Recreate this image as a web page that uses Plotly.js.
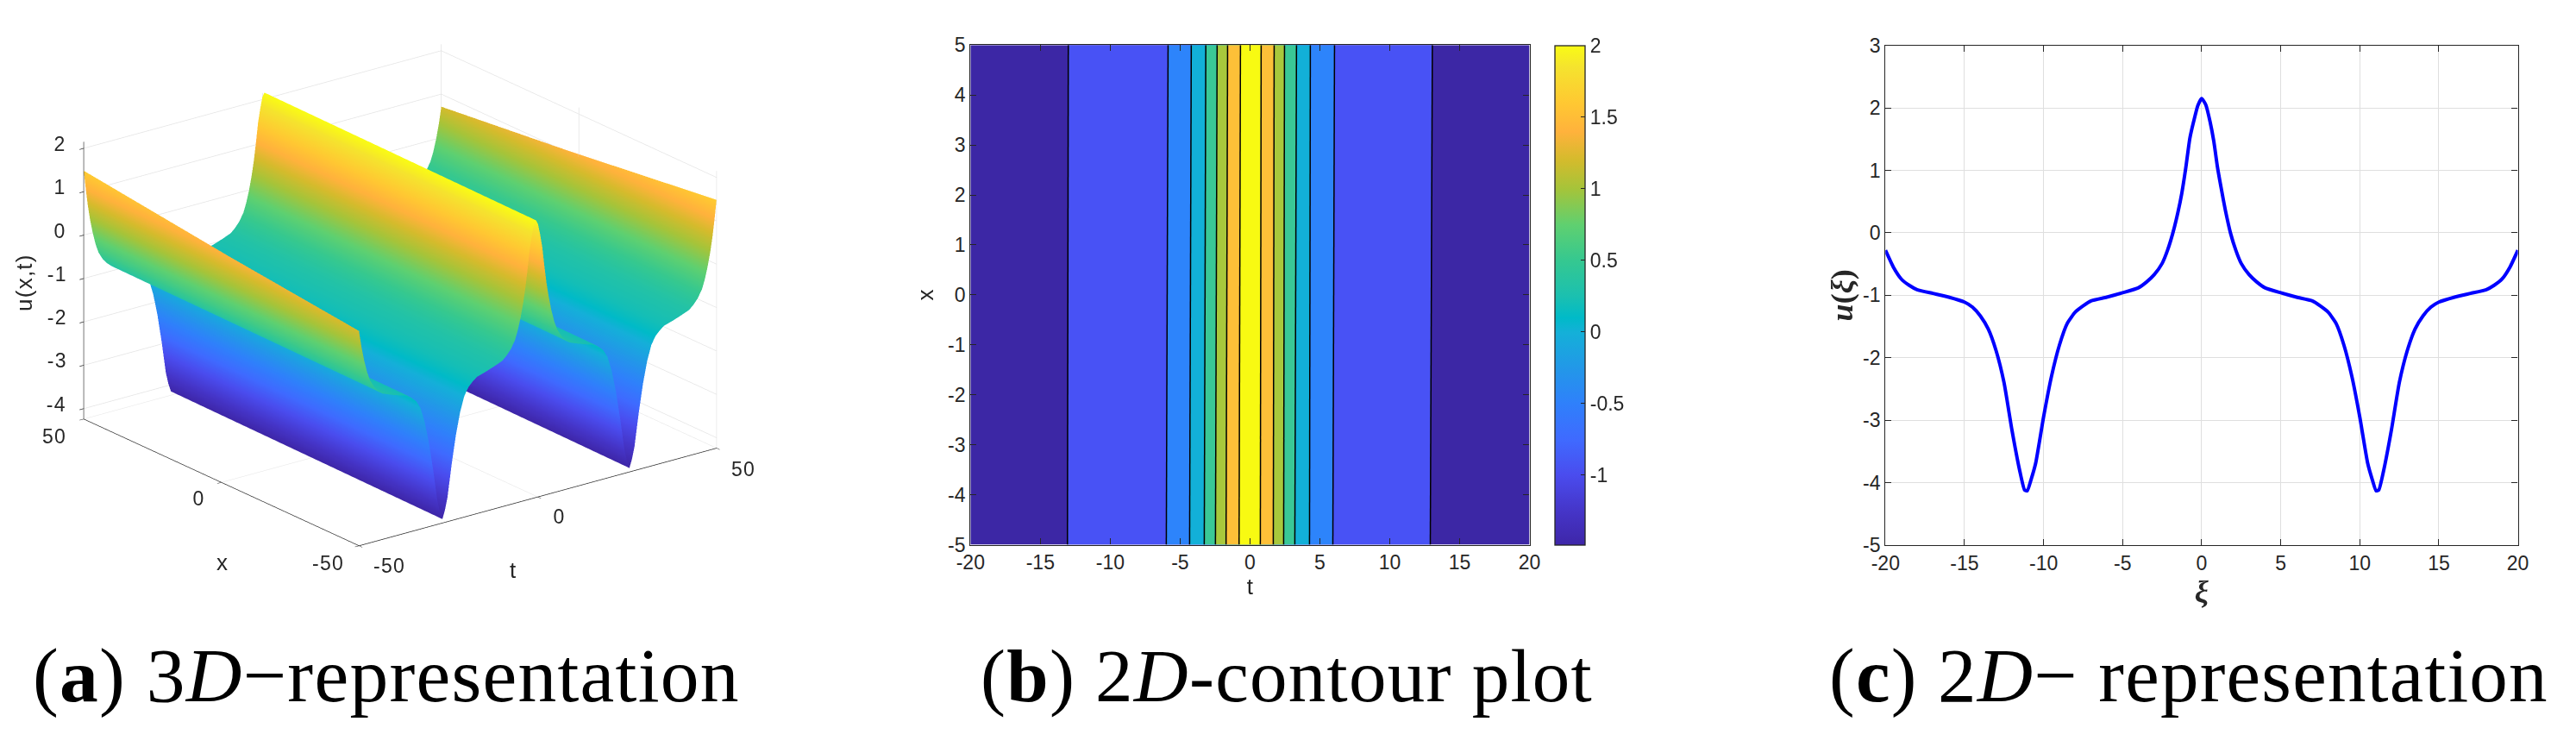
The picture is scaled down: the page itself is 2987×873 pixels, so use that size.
<!DOCTYPE html>
<html><head><meta charset="utf-8">
<script src="https://cdn.plot.ly/plotly-3.0.1.min.js"></script>
<style>html,body{margin:0;padding:0;background:#fff}.annotation-text{letter-spacing:1.25px}</style></head>
<body><div id="chart" style="width:2987px;height:873px"></div>
<script>
// Panel (c): profile u(xi)
const xi = [-20,-19.5,-19,-18.5,-18,-17,-16,-15,-14.5,-14,-13.5,-13,-12.5,-12,-11.5,-11.2,-11.03,-10.8,-10.5,-10,-9.5,-9,-8.5,-8,-7.5,-7,-6,-5,-4,-3.5,-3,-2.5,-2.16,-1.83,-1.5,-1.26,-1,-0.75,-0.51,-0.24,0,0.26,0.53,0.77,1,1.26,1.5,1.83,2.16,2.5,3,3.5,4,5,6,7,7.5,8,8.5,9,9.5,10,10.5,10.8,11.03,11.2,11.5,12,12.5,13,13.5,14,14.5,15,16,17,18,18.5,19,19.5,20];
const uXi = [-0.28,-0.55,-0.74,-0.84,-0.91,-0.97,-1.03,-1.11,-1.19,-1.33,-1.54,-1.89,-2.4,-3.16,-3.82,-4.12,-4.13,-3.96,-3.69,-2.95,-2.3,-1.8,-1.45,-1.27,-1.17,-1.09,-1.03,-0.96,-0.88,-0.79,-0.67,-0.49,-0.28,-0.01,0.33,0.63,1.05,1.51,1.78,2.04,2.15,2.05,1.78,1.46,1.05,0.68,0.36,-0.01,-0.28,-0.49,-0.67,-0.79,-0.88,-0.96,-1.03,-1.09,-1.17,-1.27,-1.45,-1.8,-2.3,-2.95,-3.69,-3.96,-4.13,-4.12,-3.82,-3.16,-2.4,-1.89,-1.54,-1.33,-1.19,-1.11,-1.03,-0.97,-0.91,-0.84,-0.74,-0.55,-0.28];

// Panel (b): contour table
const contourT = [-20,-13,-5.86,-4.2,-3.16,-2.35,-1.6,-0.68,0,0.8,1.73,2.47,3.33,4.32,6.05,13.05,20];
const contourX = [-5,5];
const contourZAtXNeg5 = [-1.45,-0.996,-0.491,0.038,0.555,1.077,1.573,2.052,2.15,1.988,1.466,0.959,0.426,-0.027,-0.535,-1.01,-1.45];
const contourZAtXPos5 = [-1.45,-1,-0.5,0,0.5,1,1.5,2,2.15,2,1.5,1,0.5,0,-0.5,-1,-1.45];
const bandColors = ['#3c27a5','#4852f5','#2d84fb','#12b0d8','#3ac896','#a8c83c','#fdc038','#f8fa12'];

// Panel (a): surface u(x,t) along its two edges
const surfaceX = [-50,50];
const surfaceTAtXNeg50 = [-51.67,-51.08,-50.5,-49.91,-49.32,-48.54,-47.76,-46.96,-45.78,-44.6,-43.43,-41.07,-38.71,-36.35,-35.18,-34,-32.82,-31.64,-30.46,-29.28,-28.1,-27.4,-26.69,-25.98,-25.28,-24.1,-22.92,-21.74,-20.56,-19.38,-18.21,-17.03,-14.67,-12.31,-9.96,-8.78,-7.6,-6.42,-5.62,-4.84,-4.07,-3.48,-2.89,-2.3,-1.71,-1.12,-0.53,0.06,0.65,1.24,1.83,2.42,3.01,3.78,4.56,5.36,6.54,7.72,8.9,11.25,13.61,15.97,17.15,18.32,19.5,20.68,21.86,23.04,24.22,24.92,25.63,26.34,27.04,28.22,29.4,30.58,31.76,32.94,34.12,35.29,37.65,40.01,42.37,43.54,44.72,45.9,46.7,47.48,48.26,48.85,49.44,50.02,50.61];
const surfaceTAtXPos50 = [-50.61,-50.02,-49.44,-48.85,-48.26,-47.48,-46.7,-45.9,-44.72,-43.54,-42.37,-40.01,-37.65,-35.29,-34.12,-32.94,-31.76,-30.58,-29.4,-28.22,-27.04,-26.34,-25.63,-24.92,-24.22,-23.04,-21.86,-20.68,-19.5,-18.32,-17.15,-15.97,-13.61,-11.25,-8.9,-7.72,-6.54,-5.36,-4.56,-3.78,-3.01,-2.42,-1.83,-1.24,-0.65,-0.06,0.53,1.12,1.71,2.3,2.89,3.48,4.07,4.84,5.62,6.42,7.6,8.78,9.96,12.31,14.67,17.03,18.21,19.38,20.56,21.74,22.92,24.1,25.28,25.98,26.69,27.4,28.1,29.28,30.46,31.64,32.82,34,35.18,36.35,38.71,41.07,43.43,44.6,45.78,46.96,47.76,48.54,49.32,49.91,50.5,51.08,51.67];
const surfaceU = [1.8,1.5,1.05,0.65,0.33,-0.01,-0.28,-0.49,-0.67,-0.79,-0.88,-0.96,-1.03,-1.09,-1.17,-1.27,-1.45,-1.8,-2.3,-2.95,-3.69,-3.96,-4.15,-3.96,-3.69,-2.95,-2.3,-1.8,-1.45,-1.27,-1.17,-1.09,-1.03,-0.96,-0.88,-0.79,-0.67,-0.49,-0.28,-0.01,0.33,0.65,1.05,1.5,1.8,2.05,2.15,2.05,1.8,1.5,1.05,0.65,0.33,-0.01,-0.28,-0.49,-0.67,-0.79,-0.88,-0.96,-1.03,-1.09,-1.17,-1.27,-1.45,-1.8,-2.3,-2.95,-3.69,-3.96,-4.15,-3.96,-3.69,-2.95,-2.3,-1.8,-1.45,-1.27,-1.17,-1.09,-1.03,-0.96,-0.88,-0.79,-0.67,-0.49,-0.28,-0.01,0.33,0.65,1.05,1.5,1.8];

// Colormap
const cmapStops = [0,0.068,0.14,0.211,0.283,0.355,0.426,0.455,0.498,0.57,0.641,0.713,0.771,0.828,0.885,0.957,1];
const cmapColors = ['#3e26a8','#4535c8','#4a4cee','#3f6aff','#2f80fb','#2298e8','#14b0d8','#00bac8','#1bc0b0','#35c890','#5fd070','#a5c43a','#d4bb2c','#ffb23c','#ffc832','#f5e32e','#f9fb15'];
const colorbarTicks = [-1,-0.5,0,0.5,1,1.5,2];
const colorbarTickText = ['-1','-0.5','0','0.5','1','1.5','2'];
const tickVals20 = [-20,-15,-10,-5,0,5,10,15,20];
const tickText20 = ['-20','-15','-10','-5','0','5','10','15','20'];
const tickValsB = [-5,-4,-3,-2,-1,0,1,2,3,4,5];
const tickTextB = ['-5','-4','-3','-2','-1','0','1','2','3','4','5'];
const tickValsC = [-5,-4,-3,-2,-1,0,1,2,3];
const tickTextC = ['-5','-4','-3','-2','-1','0','1','2','3'];
const tickVals3dZ = [-4,-3,-2,-1,0,1,2];
const tickText3dZ = ['-4','-3','-2','-1','0','1','2'];
const tickVals3d = [-50,0,50];
const tickText3d = ['-50','0','50'];

const W=2987,H=873;
const fx=p=>p/W, fy=p=>1-p/H;
const ink='#262626';
const tickFont={family:'Liberation Sans, Arial, sans-serif',size:23,color:ink};
const labelFont={family:'Liberation Sans, Arial, sans-serif',size:26,color:ink};
const parula=cmapStops.map((s,i)=>[s,cmapColors[i]]);
const bandScale=bandColors.map((c,i)=>[i/(bandColors.length-1),c]);

const surfaceTrace={type:'surface',scene:'scene',
  x:[surfaceTAtXNeg50,surfaceTAtXPos50],
  y:[surfaceTAtXNeg50.map(()=>surfaceX[0]),surfaceTAtXPos50.map(()=>surfaceX[1])],
  z:[surfaceU,surfaceU],
  colorscale:parula,cmin:-4.15,cmax:2.15,showscale:false,
  lighting:{ambient:1,diffuse:0,specular:0,fresnel:0,roughness:1},
  hoverinfo:'skip'};

const contourTrace={type:'contour',xaxis:'x',yaxis:'y',
  x:contourT,y:contourX,z:[contourZAtXNeg5,contourZAtXPos5],
  autocontour:false,contours:{start:-1,end:2,size:0.5,coloring:'fill',showlines:true},
  line:{color:'#000',width:1.5,smoothing:0},
  colorscale:bandScale,showscale:false,hoverinfo:'skip'};

const colorbarTrace={type:'scatter',mode:'markers',xaxis:'x',yaxis:'y',
  x:[null,null],y:[null,null],
  marker:{color:[-1.487,2],cmin:-1.487,cmax:2,colorscale:parula,showscale:true,size:1,
    colorbar:{x:fx(1803),xanchor:'left',xpad:0,y:fy(631.5),yanchor:'bottom',ypad:0,
      len:(631.5-52.3)/H,lenmode:'fraction',thickness:35,thicknessmode:'pixels',
      outlinecolor:ink,outlinewidth:1.3,ticks:'inside',ticklen:5,tickcolor:ink,tickwidth:1.2,
      tickmode:'array',tickvals:colorbarTicks,ticktext:colorbarTickText,tickfont:tickFont}},
  hoverinfo:'skip',showlegend:false};

const lineTrace={type:'scatter',mode:'lines',xaxis:'x2',yaxis:'y2',x:xi,y:uXi,
  line:{color:'#0000ff',width:4,shape:'spline',smoothing:0.5},hoverinfo:'skip',showlegend:false};

function ax2d(range,tickvals,ticktext,extra){return Object.assign({range,tickmode:'array',tickvals,ticktext,showline:true,linecolor:ink,linewidth:1.3,mirror:'ticks',
  ticks:'inside',ticklen:7,tickwidth:1.2,tickcolor:ink,tickfont:tickFont,zeroline:false,showgrid:false},extra);}
const gridOn={showgrid:true,gridcolor:'#dfdfdf',gridwidth:1.3};

function ax3d(range,tickvals){return {range,autorange:false,tickmode:'array',tickvals,ticktext:tickvals.map(()=>''),showticklabels:false,title:{text:''},
  showgrid:true,gridcolor:'#e3e3e3',gridwidth:1.5,showline:true,linecolor:ink,linewidth:1.5,ticks:'outside',ticklen:6,tickcolor:ink,tickwidth:1.5,
  zeroline:false,showbackground:false,showspikes:false,mirror:false};}

function cap(letter,num,dash,x,size){return {xref:'paper',yref:'paper',x:fx(x),y:fy(812),xanchor:'left',yanchor:'bottom',showarrow:false,align:'left',
  text:`(<b>${letter}</b>) ${num}<i>D</i>${dash}`,font:{family:'Liberation Serif, serif',size:size,color:'#000'},yshift:-22};}

function lab3d(text,x,y,z,xshift,yshift,extra){return Object.assign({x,y,z,text,showarrow:false,xanchor:'center',yanchor:'middle',xshift,yshift,font:tickFont},extra||{});}
const sceneLabels=[
  ...tickVals3dZ.map((v,i)=>lab3d(tickText3dZ[i],-50,50,v,-19,5,{xanchor:'right'})),
  lab3d(tickText3d[2],-50,50,-4.24,-34,-20),
  lab3d(tickText3d[1],-50,0,-4.24,-26,-19),
  lab3d(tickText3d[0],-50,-50,-4.24,-36,-20),
  lab3d(tickText3d[0],-50,-50,-4.24,35,-23),
  lab3d(tickText3d[1],0,-50,-4.24,25,-23),
  lab3d(tickText3d[2],50,-50,-4.24,31,-24),
  lab3d('x',-50,0,-4.24,1,-93,{font:labelFont}),
  lab3d('t',0,-50,-4.24,-29,-85,{font:labelFont}),
  lab3d('u(x,t)',-50,50,-1.1,-69,0,{textangle:-90,font:labelFont})
];

const layout={width:W,height:H,margin:{l:0,r:0,t:0,b:0,pad:0},paper_bgcolor:'rgba(0,0,0,0)',plot_bgcolor:'rgba(0,0,0,0)',showlegend:false,
  scene:{domain:{x:[fx(24),fx(904)],y:[fy(684),fy(0)]},bgcolor:'rgba(0,0,0,0)',
    xaxis:ax3d([-50,50],tickVals3d),
    yaxis:ax3d([-50,50],tickVals3d),
    zaxis:ax3d([-4.24,2.15],tickVals3dZ),
    aspectmode:'manual',aspectratio:{x:1.53,y:1.53,z:1.005},
    annotations:sceneLabels,
    camera:{projection:{type:'orthographic'},up:{x:0,y:0,z:1},center:{x:0,y:0,z:0},eye:{x:-1.14,y:-1.48,z:0.708}}},
  xaxis:ax2d([-20,20],tickVals20,tickText20,{domain:[fx(1125.3),fx(1773.5)],anchor:'y',title:{text:'t',font:labelFont,standoff:4}}),
  yaxis:ax2d([-5,5],tickValsB,tickTextB,{domain:[fy(631.5),fy(52.3)],anchor:'x',title:{text:'x',font:labelFont,standoff:8}}),
  xaxis2:ax2d([-20,20],tickVals20,tickText20,Object.assign({domain:[fx(2186.3),fx(2919.6)],anchor:'y2',title:{text:'<b><i>ξ</i></b>',font:{family:'Liberation Serif, serif',size:36,color:ink},standoff:2}},gridOn)),
  yaxis2:ax2d([-5,3],tickValsC,tickTextC,Object.assign({domain:[fy(631.9),fy(52.7)],anchor:'x2',title:{text:'<b><i>u</i>(<i>ξ</i>)</b>',font:{family:'Liberation Serif, serif',size:36,color:ink},standoff:0}},gridOn)),
  annotations:[
    cap('a','3','−representation',36,89.5),
    cap('b','2','-contour plot',1135,87),
    cap('c','2','− representation',2119,89)
  ]};
Plotly.newPlot('chart',[surfaceTrace,contourTrace,colorbarTrace,lineTrace],layout,{displayModeBar:false});
</script></body></html>
